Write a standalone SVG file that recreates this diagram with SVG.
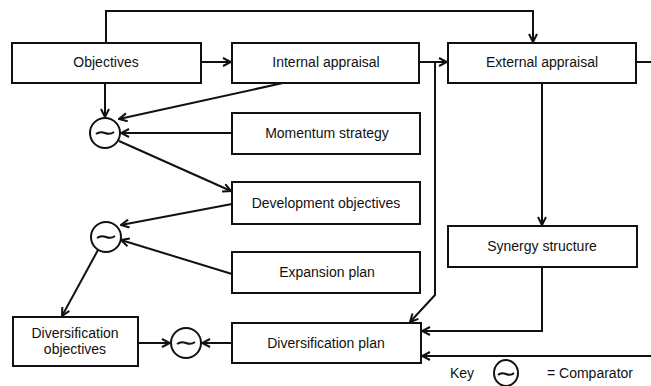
<svg xmlns="http://www.w3.org/2000/svg" width="651" height="386" viewBox="0 0 651 386">
  <style>
    .box { fill: #fff; stroke: #111; stroke-width: 2; }
    .lbl { font-family: "Liberation Sans", Arial, sans-serif; font-size: 14px; fill: #111; text-anchor: middle; }
    .key { font-family: "Liberation Sans", Arial, sans-serif; font-size: 14px; fill: #111; }
    .wire { fill: none; stroke: #111; stroke-width: 2; }
    .cmp { fill: #fff; stroke: #111; stroke-width: 2; }
    .tilde { fill: none; stroke: #111; stroke-width: 2; }
  </style>
  <defs>
    <marker id="arr" viewBox="0 0 10 10" refX="9" refY="5" markerWidth="10" markerHeight="10" markerUnits="userSpaceOnUse" orient="auto">
      <path d="M1,1 L9,5 L1,9" fill="none" stroke="#111" stroke-width="2"/>
    </marker>
    <g id="comparator">
      <circle r="15" class="cmp"/>
      <path d="M-9,1 q4,-3 9,-1 t9,-1" class="tilde"/>
    </g>
  </defs>
  <rect width="651" height="386" fill="#fff"/>

  <!-- connectors -->
  <g id="connectors">
    <path class="wire" d="M106,43 V11 H533 V42" marker-end="url(#arr)"/>
    <path class="wire" d="M201,62 H231" marker-end="url(#arr)"/>
    <path class="wire" d="M419,62 H447" marker-end="url(#arr)"/>
    <path class="wire" d="M636,62 H651"/>
    <path class="wire" d="M105,83 V117" marker-end="url(#arr)"/>
    <path class="wire" d="M283,83 L119,119" marker-end="url(#arr)"/>
    <path class="wire" d="M232,133 H121" marker-end="url(#arr)"/>
    <path class="wire" d="M119,141 L231,191" marker-end="url(#arr)"/>
    <path class="wire" d="M232,204 L121,225" marker-end="url(#arr)"/>
    <path class="wire" d="M232,274 L121,240" marker-end="url(#arr)"/>
    <path class="wire" d="M98,250 L62,316" marker-end="url(#arr)"/>
    <path class="wire" d="M138,343 H170" marker-end="url(#arr)"/>
    <path class="wire" d="M232,343 H202" marker-end="url(#arr)"/>
    <path class="wire" d="M435,63 V295 L410,322" marker-end="url(#arr)"/>
    <path class="wire" d="M542,83 V225" marker-end="url(#arr)"/>
    <path class="wire" d="M542,267 V331 H422" marker-end="url(#arr)"/>
    <path class="wire" d="M651,356 H422" marker-end="url(#arr)"/>
  </g>

  <!-- nodes -->
  <g id="objectives">
    <rect class="box" x="12" y="43" width="189" height="40"/>
    <text class="lbl" x="106" y="67">Objectives</text>
  </g>
  <g id="internal-appraisal">
    <rect class="box" x="232" y="43" width="187" height="40"/>
    <text class="lbl" x="326" y="67">Internal appraisal</text>
  </g>
  <g id="external-appraisal">
    <rect class="box" x="448" y="43" width="188" height="40"/>
    <text class="lbl" x="542" y="67">External appraisal</text>
  </g>
  <g id="momentum-strategy">
    <rect class="box" x="232" y="113" width="188" height="41"/>
    <text class="lbl" x="327" y="138">Momentum strategy</text>
  </g>
  <g id="development-objectives">
    <rect class="box" x="232" y="182" width="188" height="42"/>
    <text class="lbl" x="326" y="208">Development objectives</text>
  </g>
  <g id="expansion-plan">
    <rect class="box" x="232" y="252" width="188" height="41"/>
    <text class="lbl" x="327" y="277">Expansion plan</text>
  </g>
  <g id="synergy-structure">
    <rect class="box" x="448" y="226" width="189" height="41"/>
    <text class="lbl" x="542" y="251">Synergy structure</text>
  </g>
  <g id="diversification-objectives">
    <rect class="box" x="13" y="317" width="125" height="49"/>
    <text class="lbl" x="75" y="338">Diversification</text>
    <text class="lbl" x="75" y="354">objectives</text>
  </g>
  <g id="diversification-plan">
    <rect class="box" x="232" y="323" width="189" height="40"/>
    <text class="lbl" x="326" y="348">Diversification plan</text>
  </g>
  <g id="comparator-1"><use href="#comparator" x="105" y="133"/></g>
  <g id="comparator-2"><use href="#comparator" x="106" y="237"/></g>
  <g id="comparator-3"><use href="#comparator" x="186" y="343"/></g>

  <!-- key -->
  <g id="key">
    <text class="key" x="450" y="378">Key</text>
    <ellipse cx="506" cy="373" rx="12" ry="13" class="cmp"/>
    <path d="M498,375 q3,-3 8,-1 t8,-1" class="tilde"/>
    <text class="key" x="547" y="378">= Comparator</text>
  </g>
</svg>
